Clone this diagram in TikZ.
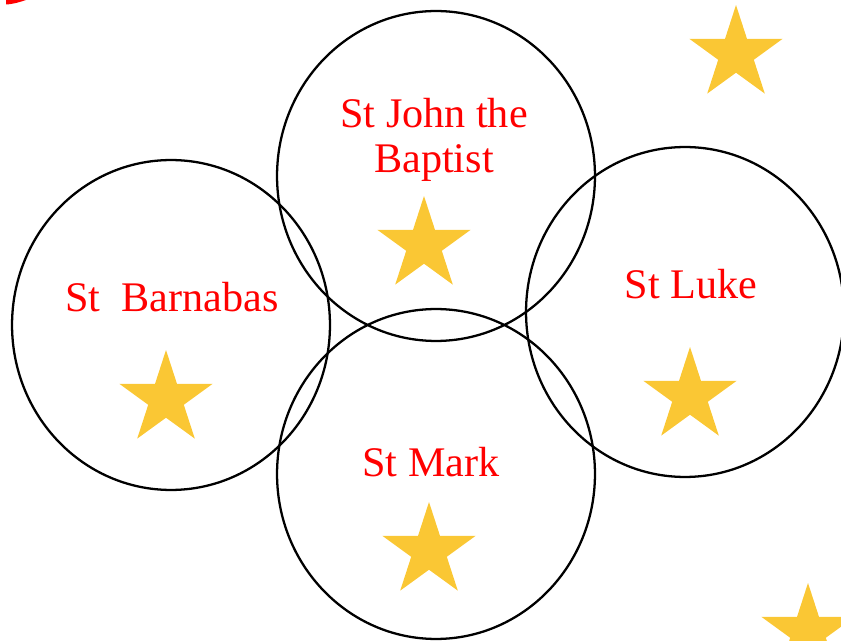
\documentclass[tikz,border=0pt]{standalone}
\usepackage{fontspec}
\setmainfont{Liberation Serif}
\usetikzlibrary{shapes.geometric,positioning}
\definecolor{stargold}{RGB}{250,199,52}
\definecolor{namered}{RGB}{255,0,0}

\begin{document}
\begin{tikzpicture}[x=0.02cm, y=-0.02cm,
		ring/.style={draw, ellipse, line width=1.3pt, minimum width=6.36cm, minimum height=6.6cm, inner sep=0pt},
		saint/.style={text=namered, font=\fontsize{24}{26}\selectfont, align=center},
		gold/.style={star, star points=5, star point ratio=2.618, fill=stargold, minimum size=1.96cm, inner sep=0pt}]
			\useasboundingbox (0,0) rectangle (841,641);
			\fill[namered] (6,0) -- (6,4.5) .. controls (14,4) and (20,2) .. (26,0) -- cycle;

			\node[ring] (barnabas) at (171,325) {};
			\node[ring] (john) at (436,176) {};
			\node[ring] (luke) at (685,312) {};
			\node[ring] (mark) at (436,474) {};

			\node[saint] (barnabasname) at (172,297) {St~~Barnabas};
			\node[saint] (johnname) at (434,140) {St John the\\Baptist};
			\node[saint] (lukename) at (691,284) {St Luke};
			\node[saint] (markname) at (431,462) {St Mark};

			\node[gold] (barnabasstar) at (166,399) {};
			\node[gold] (johnstar) at (424,245) {};
			\node[gold] (lukestar) at (690,396) {};
			\node[gold] (markstar) at (429,551) {};
			\node[gold] (cornerstar) at (736,54) {};
			\node[gold] (edgestar) at (808,632) {};
		\end{tikzpicture}
\end{document}
